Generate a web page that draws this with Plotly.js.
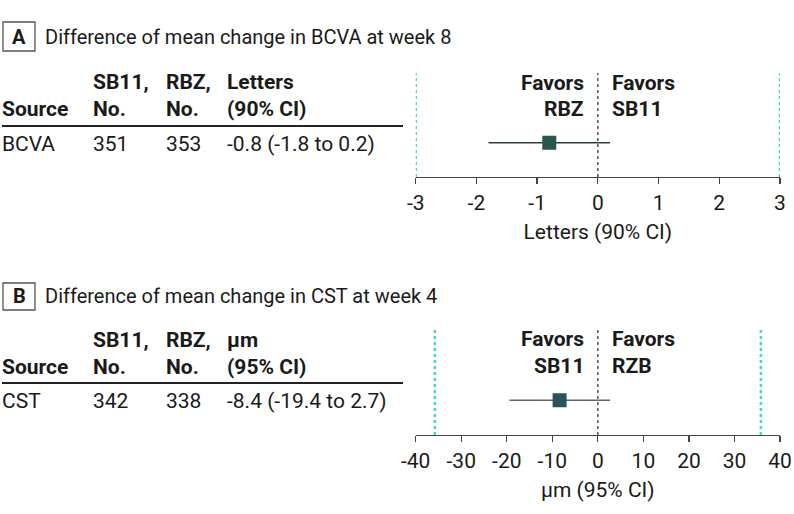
<!DOCTYPE html>
<html>
<head>
<meta charset="utf-8">
<script src="https://cdn.plot.ly/plotly-3.0.1.min.js"></script>
<style>html,body{margin:0;padding:0;background:#fff;}#chart{width:794px;height:514px;}</style>
</head>
<body>
<div id="chart"></div>
<script>
// ---- data ----
const panelLetters = ["A", "B"];
const panelTitles = ["Difference of mean change in BCVA at week 8", "Difference of mean change in CST at week 4"];
const sources = ["BCVA", "CST"];
const nSB11 = [351, 342];
const nRBZ = [353, 338];
const estimates = [-0.8, -8.4];
const ciLow = [-1.8, -19.4];
const ciHigh = [0.2, 2.7];
const ciTexts = ["-0.8 (-1.8 to 0.2)", "-8.4 (-19.4 to 2.7)"];
const unitHeaders = [["Letters", "(90% CI)"], ["µm", "(95% CI)"]];
const axisTitles = ["Letters (90% CI)", "µm (95% CI)"];
const axisRanges = [[-3, 3], [-40, 40]];
const tickVals = [[-3, -2, -1, 0, 1, 2, 3], [-40, -30, -20, -10, 0, 10, 20, 30, 40]];
const tickLabels = [["-3", "-2", "-1", "0", "1", "2", "3"], ["-40", "-30", "-20", "-10", "0", "10", "20", "30", "40"]];
const margins = [3, 35.8];
const favorsLeft = [["Favors", "RBZ"], ["Favors", "SB11"]];
const favorsRight = [["Favors", "SB11"], ["Favors", "RZB"]];

// ---- layout helpers (pixel -> paper) ----
const W = 794, H = 514;
const px = x => x / W;
const py = y => 1 - y / H;
const FONT = "Roboto, 'Noto Sans', sans-serif";
const TXT = "#1a1a1a";
const FS = 21;     // table / axis font size
const FT = 20;     // panel title font size

// panel vertical geometry (pixels)
const geo = [
  {box: [3, 22, 35, 51], titleY: 37, h1: 82, h2: 109, rule: 126, row: 144, top: 73, axis: 177, fav1: 83, fav2: 109},
  {box: [3, 283, 35, 310], titleY: 296, h1: 340, h2: 367, rule: 383, row: 401, top: 330, axis: 435, fav1: 339, fav2: 366}
];
const plotL = 415.7, plotR = 780;
const colX = [0, 91, 164, 225];

const traces = [];
const annotations = [];
const shapes = [];
const layout = {
  width: W, height: H,
  margin: {l: 0, r: 0, t: 0, b: 0},
  paper_bgcolor: "#fff", plot_bgcolor: "#fff",
  showlegend: false,
  font: {family: FONT, size: FS, color: TXT},
  annotations: annotations,
  shapes: shapes
};

function txt(x, y, text, anchor, size) {
  annotations.push({xref: "paper", yref: "paper", x: px(x), y: py(y), text: text,
    showarrow: false, xanchor: anchor, yanchor: "middle",
    font: {family: FONT, size: size || FS, color: TXT}});
}

for (let i = 0; i < 2; i++) {
  const g = geo[i];
  const xa = i === 0 ? "x" : "x2";
  const ya = i === 0 ? "y" : "y2";
  const xkey = i === 0 ? "xaxis" : "xaxis2";
  const ykey = i === 0 ? "yaxis" : "yaxis2";

  layout[xkey] = {
    domain: [px(plotL), px(plotR)],
    anchor: ya,
    range: axisRanges[i],
    tickmode: "array",
    tickvals: tickVals[i],
    ticktext: tickLabels[i],
    ticks: "outside", ticklen: 6, tickwidth: 1.3, tickcolor: "#444",
    showline: true, linecolor: "#444", linewidth: 1.3,
    showgrid: false, zeroline: false,
    tickfont: {family: FONT, size: FS, color: TXT},
    title: {text: axisTitles[i], font: {family: FONT, size: FS, color: TXT}, standoff: 10},
    fixedrange: true
  };
  layout[ykey] = {
    domain: [py(g.axis), py(g.top)],
    anchor: xa,
    range: [0, 1],
    visible: false,
    fixedrange: true
  };

  // CI whisker
  traces.push({
    type: "scatter", mode: "lines", xaxis: xa, yaxis: ya,
    x: [ciLow[i], ciHigh[i]], y: [0.33, 0.33],
    line: {color: i === 0 ? "#2f3f3e" : "#666", width: 1.5},
    hoverinfo: "skip"
  });
  // point estimate
  traces.push({
    type: "scatter", mode: "markers", xaxis: xa, yaxis: ya,
    x: [estimates[i]], y: [0.33],
    marker: {symbol: "square", size: 14, color: "#2a5553", line: {width: 0}},
    hoverinfo: "x"
  });

  // zero dotted line
  shapes.push({type: "line", xref: xa, yref: ya, x0: 0, x1: 0, y0: 0, y1: 1,
    line: {color: "#555", width: 1.5, dash: "dot"}});
  // equivalence margins
  [-margins[i], margins[i]].forEach(m => {
    shapes.push({type: "line", xref: xa, yref: ya, x0: m, x1: m, y0: 0, y1: 1,
      line: {color: "#3fd9d2", width: 2.5, dash: "dot"}});
  });

  // panel letter box
  shapes.push({type: "rect", xref: "paper", yref: "paper",
    x0: px(g.box[0]), x1: px(g.box[2]), y0: py(g.box[3]), y1: py(g.box[1]),
    line: {color: "#555", width: 1.3}, fillcolor: "rgba(0,0,0,0)"});
  txt((g.box[0] + g.box[2]) / 2, g.titleY, "<b>" + panelLetters[i] + "</b>", "center", FT);
  txt(43, g.titleY, panelTitles[i], "left", FT);

  // table header
  const h1 = ["", "SB11,", "RBZ,", unitHeaders[i][0]];
  const h2 = ["Source", "No.", "No.", unitHeaders[i][1]];
  for (let c = 0; c < 4; c++) {
    if (h1[c]) txt(colX[c], g.h1, "<b>" + h1[c] + "</b>", "left");
    txt(colX[c], g.h2, "<b>" + h2[c] + "</b>", "left");
  }
  shapes.push({type: "line", xref: "paper", yref: "paper", x0: px(2), x1: px(403), y0: py(g.rule), y1: py(g.rule),
    line: {color: "#222", width: 2}});
  const row = [sources[i], String(nSB11[i]), String(nRBZ[i]), ciTexts[i]];
  for (let c = 0; c < 4; c++) txt(colX[c], g.row, row[c], "left");

  // favors labels
  [g.fav1, g.fav2].forEach((yy, k) => {
    txt(586, yy, "<b>" + favorsLeft[i][k] + "</b>", "right");
    txt(610, yy, "<b>" + favorsRight[i][k] + "</b>", "left");
  });
}

Plotly.newPlot("chart", traces, layout, {displayModeBar: false, staticPlot: true});
</script>
</body>
</html>
